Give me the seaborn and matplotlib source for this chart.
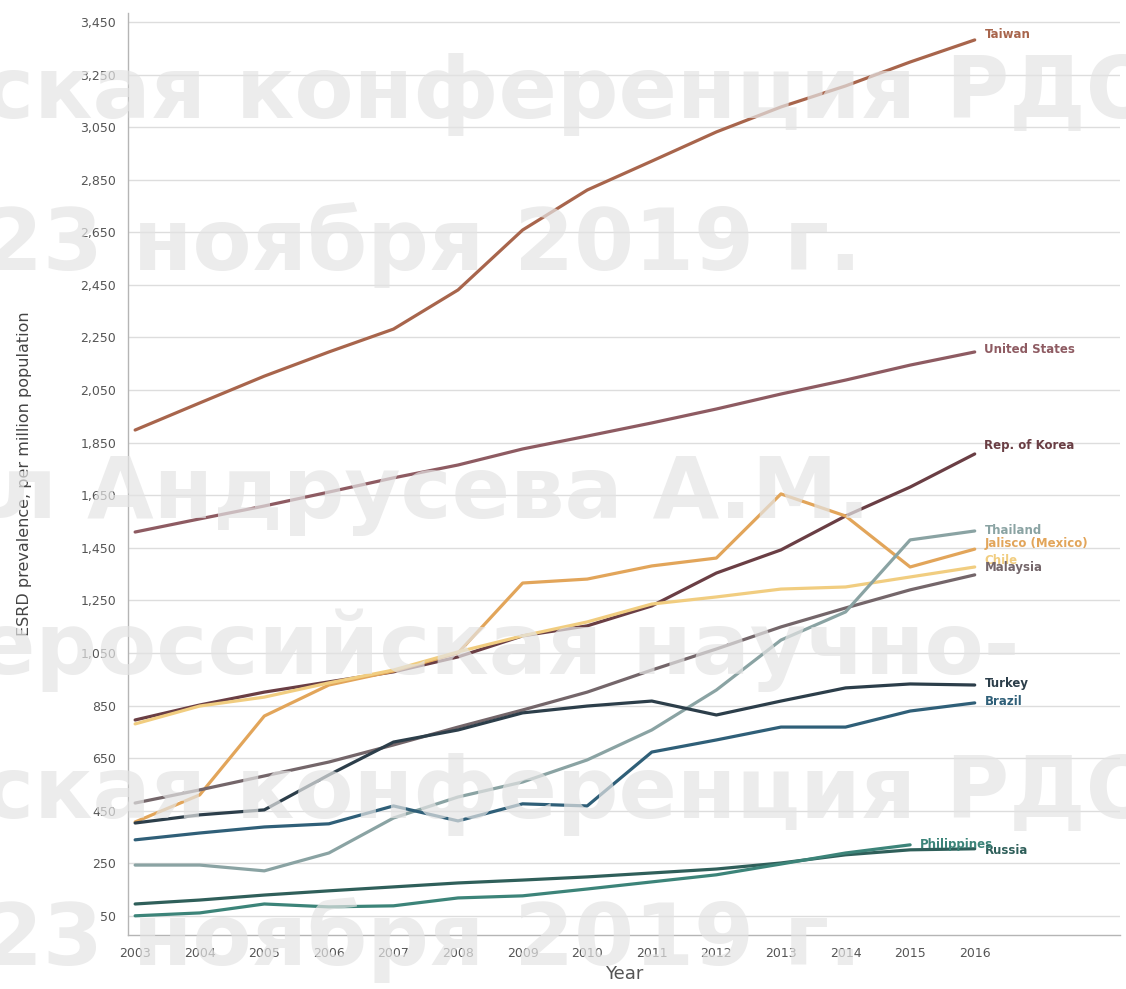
import pandas as pd
import numpy as np
import matplotlib.pyplot as plt
import matplotlib.ticker as mticker
import seaborn as sns

years = list(range(2003, 2017))

taiwan = [1898, 2001, 2103, 2195, 2282, 2431, 2659, 2811, 2921, 3032, 3127, 3207, 3298, 3382]
united_states = [1510, 1560, 1609, 1662, 1716, 1765, 1826, 1875, 1925, 1978, 2035, 2088, 2145, 2195]
korea = [795, 852, 901, 940, 978, 1035, 1115, 1153, 1229, 1354, 1442, 1571, 1681, 1807]
jalisco = [407, 510, 810, 928, 981, 1050, 1316, 1331, 1381, 1411, 1655, 1571, 1377, 1445]
chile = [780, 848, 882, 936, 985, 1054, 1115, 1168, 1236, 1263, 1293, 1301, 1339, 1377]
malaysia = [479, 529, 582, 635, 700, 768, 833, 901, 985, 1065, 1149, 1221, 1290, 1347]
thailand = [243, 243, 221, 289, 422, 502, 559, 643, 757, 909, 1099, 1206, 1480, 1514]
turkey = [403, 434, 453, 586, 711, 757, 822, 848, 867, 814, 867, 917, 932, 928]
brazil = [339, 365, 388, 400, 468, 411, 476, 468, 673, 719, 768, 768, 829, 860]
russia = [95, 110, 129, 145, 160, 175, 186, 198, 213, 228, 251, 282, 301, 305]
philippines = [50, 61, 95, 84, 88, 118, 126, 152, 179, 206, 247, 289, 320]

series = {
    'Taiwan': taiwan,
    'United States': united_states,
    'Rep. of Korea': korea,
    'Jalisco (Mexico)': jalisco,
    'Chile': chile,
    'Malaysia': malaysia,
    'Thailand': thailand,
    'Turkey': turkey,
    'Brazil': brazil,
    'Russia': russia,
    'Philippines': philippines,
}

colors = {
    'Taiwan': '#a8654c',
    'United States': '#8e5b62',
    'Rep. of Korea': '#6a3e44',
    'Jalisco (Mexico)': '#e2a55a',
    'Chile': '#f1cd80',
    'Malaysia': '#74666a',
    'Thailand': '#8aa3a3',
    'Turkey': '#2c3e4a',
    'Brazil': '#2f5f78',
    'Russia': '#2f5f5a',
    'Philippines': '#3c8479',
}

# vertical nudge of the end labels (points)
label_dy = {
    'Taiwan': 4, 'United States': 2, 'Rep. of Korea': 6, 'Jalisco (Mexico)': 4,
    'Chile': 5, 'Malaysia': 5, 'Thailand': 0, 'Turkey': 1, 'Brazil': 1,
    'Russia': -1, 'Philippines': 0,
}

rows = []
for name, vals in series.items():
    for y, v in zip(years, vals):
        rows.append({'Year': y, 'Country': name, 'Value': v})
df = pd.DataFrame(rows)

sns.set_style('white')
fig = plt.figure(figsize=(11.26, 9.89), dpi=100)
ax = fig.add_axes([0.1137, 0.0546, 0.881, 0.9324])

sns.lineplot(data=df, x='Year', y='Value', hue='Country', palette=colors,
             linewidth=2.3, legend=False, ax=ax, zorder=3)

ax.set_xlim(2002.89, 2018.25)
ax.set_ylim(-23, 3485)
ax.set_xticks(years)
ax.set_yticks(np.arange(50, 3451, 200))
ax.yaxis.set_major_formatter(mticker.StrMethodFormatter('{x:,.0f}'))
ax.tick_params(axis='both', labelsize=9, colors='#555555', length=5, width=0.8, direction='out')
ax.tick_params(axis='y', color='#aaaaaa')
ax.tick_params(axis='x', color='#888888')
ax.grid(axis='y', color='#dddddd', linewidth=1)
ax.set_axisbelow(True)
for s in ['top', 'right']:
    ax.spines[s].set_visible(False)
for s in ['left', 'bottom']:
    ax.spines[s].set_color('#b5b5b5')
    ax.spines[s].set_linewidth(1)

ax.set_xlabel('Year', fontsize=13, color='#555555', labelpad=4)
ax.set_ylabel('ESRD prevalence, per million population', fontsize=11.5, color='#444444',
              labelpad=35)

for name, vals in series.items():
    lx = years[len(vals) - 1]
    ax.annotate(name, xy=(lx, vals[-1]), xytext=(7, label_dy[name]), textcoords='offset points',
                fontsize=8.5, fontweight='bold', color=colors[name], va='center', ha='left',
                zorder=4)

# faint watermark of the original slide
wm = [
    ('ская конференция РДО', -0.015, 95),
    ('23 ноября 2019 г.', -0.015, 245),
    ('л Андрусева А.М.', -0.005, 495),
    ('ероссийская научно-', -0.02, 650),
    ('ская конференция РДО', -0.015, 795),
    ('23 ноября 2019 г.', -0.015, 940),
]
for txt, x0, ypx in wm:
    fig.text(x0, 1 - ypx / 989, txt, fontsize=62, fontweight='bold', family='DejaVu Sans',
             color='#e4e4e4', alpha=0.7, ha='left', va='center', zorder=10)

fig.savefig('out.png', dpi=100)
